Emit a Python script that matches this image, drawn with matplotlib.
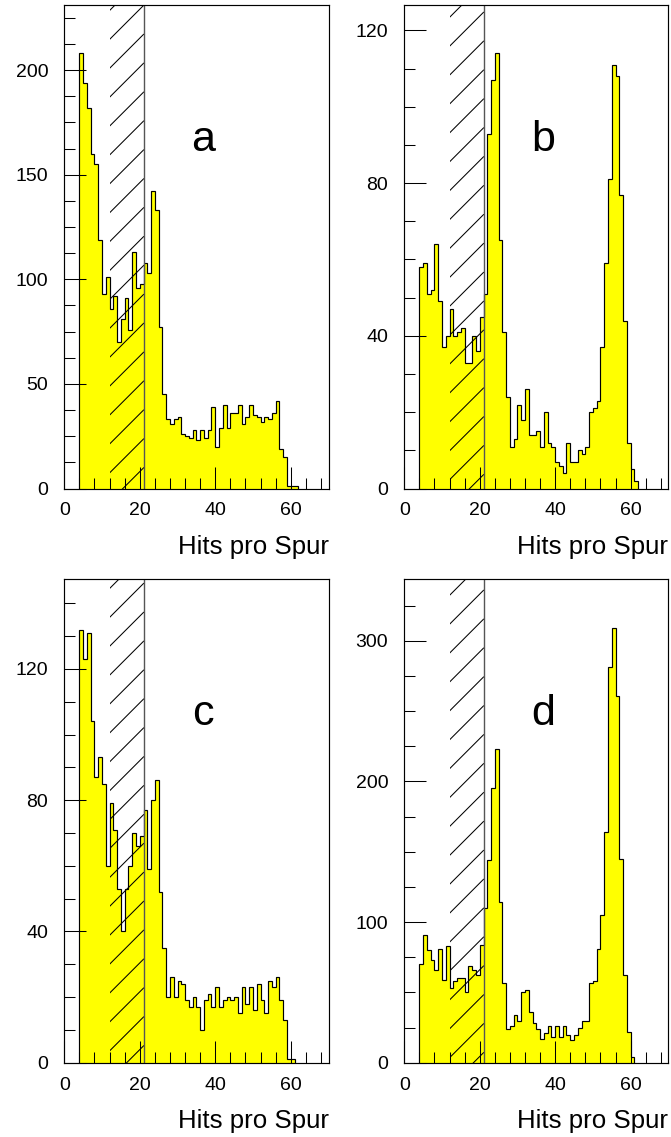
import numpy as np
import matplotlib
matplotlib.use("Agg")
import matplotlib.pyplot as plt
from matplotlib.patches import Rectangle
from matplotlib.ticker import MultipleLocator

plt.rcParams['font.family'] = ['Liberation Sans', 'DejaVu Sans']

# Unit-width bins, the first one starting at 4 hits
first_edge = 4

counts_a = [208, 194, 182, 160, 155, 119, 93, 101, 86, 92,
            70, 81, 91, 76, 113, 96, 98, 108, 103, 142,
            133, 77, 45, 33, 31, 33, 34, 26, 25, 24,
            28, 23, 28, 24, 28, 39, 20, 29, 40, 29,
            36, 36, 40, 31, 34, 40, 35, 34, 32, 34,
            33, 36, 42, 19, 15, 1, 1, 1]

counts_b = [58, 59, 51, 52, 64, 49, 37, 40, 47, 40,
            41, 42, 33, 33, 40, 36, 45, 51, 93, 107,
            114, 65, 41, 24, 11, 13, 22, 18, 26, 14,
            14, 15, 11, 20, 12, 11, 7, 6, 4, 12,
            7, 7, 10, 9, 11, 20, 21, 23, 37, 59,
            81, 111, 108, 77, 44, 12, 5, 2]

counts_c = [132, 123, 131, 104, 87, 93, 85, 60, 79, 71,
            53, 40, 53, 60, 70, 66, 69, 77, 59, 80,
            86, 52, 35, 20, 26, 20, 25, 24, 19, 17,
            20, 17, 10, 19, 21, 17, 23, 17, 19, 20,
            19, 20, 15, 23, 18, 23, 16, 24, 19, 15,
            25, 23, 26, 19, 13, 1, 1]

counts_d = [70, 91, 80, 73, 66, 81, 59, 83, 53, 58,
            60, 60, 50, 69, 66, 62, 84, 110, 144, 195,
            223, 114, 57, 24, 26, 34, 30, 50, 52, 36,
            28, 24, 17, 21, 26, 18, 26, 18, 26, 20,
            16, 20, 25, 30, 30, 57, 58, 81, 105, 164,
            281, 309, 261, 145, 62, 22, 4]

panel_counts = [counts_a, counts_b, counts_c, counts_d]
panel_letters = ['a', 'b', 'c', 'd']
y_tops = [231, 126.6, 147.3, 343.7]
y_major_steps = [50, 40, 40, 100]
y_minor_steps = [12.5, 10, 10, 25]

x_range = (0, 70)
x_major_step = 20
x_minor_step = 4
cut_from, cut_to = 12, 21
x_title = 'Hits pro Spur'

W, H = 671, 1137
fig = plt.figure(figsize=(W / 100, H / 100), dpi=100)

# axes frames in pixels: (left, top, right, bottom)
frames = [(64.3, 5.3, 328.5, 488.5), (404.3, 5.3, 668.3, 488.5),
          (64.3, 579.3, 328.5, 1062.7), (404.3, 579.3, 668.3, 1062.7)]


def add_cut_band(ax, x0, x1, spacing=28.9, phase=4.5):
    """Diagonal hatching over the excluded range, with a solid right edge."""
    ylo, yhi = ax.get_ylim()
    Hf = fig.bbox.height
    dx0, dy0 = ax.transData.transform((x0, ylo))
    dx1, dy1 = ax.transData.transform((x1, yhi))
    # lines: x + (Hf - y) = c  (pixel pattern, origin top-left)
    cmin = dx0 + Hf - dy1
    cmax = dx1 + Hf - dy0
    k0 = int(np.floor((cmin - phase) / spacing)) - 1
    k1 = int(np.ceil((cmax - phase) / spacing)) + 1
    inv = ax.transData.inverted()
    clip = Rectangle((x0, ylo), x1 - x0, yhi - ylo, transform=ax.transData)
    for k in range(k0, k1 + 1):
        c = phase + k * spacing
        p = inv.transform([(dx0, dx0 + Hf - c), (dx1, dx1 + Hf - c)])
        ln, = ax.plot(p[:, 0], p[:, 1], color='black', lw=0.75, zorder=3)
        ln.set_clip_path(clip)
    ax.axvline(x1, color='#555555', lw=1.0, zorder=3.5)


for counts, letter, ytop, ymaj, ymin_, fr in zip(panel_counts, panel_letters, y_tops,
                                                 y_major_steps, y_minor_steps, frames):
    l, t, r, b = fr
    ax = fig.add_axes([l / W, (H - b) / H, (r - l) / W, (b - t) / H])
    edges = np.arange(first_edge, first_edge + len(counts) + 1)
    ax.stairs(counts, edges, fill=True, facecolor='#ffff00', edgecolor='none',
              linewidth=0, zorder=1)
    ax.stairs(counts, edges, baseline=0, fill=False, color='black', lw=0.85, zorder=2)

    ax.set_xlim(*x_range)
    ax.set_ylim(0, ytop)
    ax.set_autoscale_on(False)

    add_cut_band(ax, cut_from, cut_to)

    ax.xaxis.set_major_locator(MultipleLocator(x_major_step))
    ax.xaxis.set_minor_locator(MultipleLocator(x_minor_step))
    ax.yaxis.set_major_locator(MultipleLocator(ymaj))
    ax.yaxis.set_minor_locator(MultipleLocator(ymin_))
    ax.tick_params(which='both', direction='in', top=False, right=False,
                   width=0.75, color='black', labelsize=14)
    ax.tick_params(which='major', length=16)
    ax.tick_params(which='minor', length=8)
    ax.tick_params(axis='x', which='major', pad=10)
    ax.tick_params(axis='y', which='major', pad=11.5)
    for s in ax.spines.values():
        s.set_linewidth(0.85)
        s.set_zorder(4)

    ax.text(0.525, 0.698, letter, transform=ax.transAxes, ha='center',
            va='baseline', fontsize=31)
    ax.text(1.0, -65.6 / (b - t), x_title, transform=ax.transAxes, ha='right',
            va='baseline', fontsize=18.6)

fig.savefig('out.png', dpi=100)
